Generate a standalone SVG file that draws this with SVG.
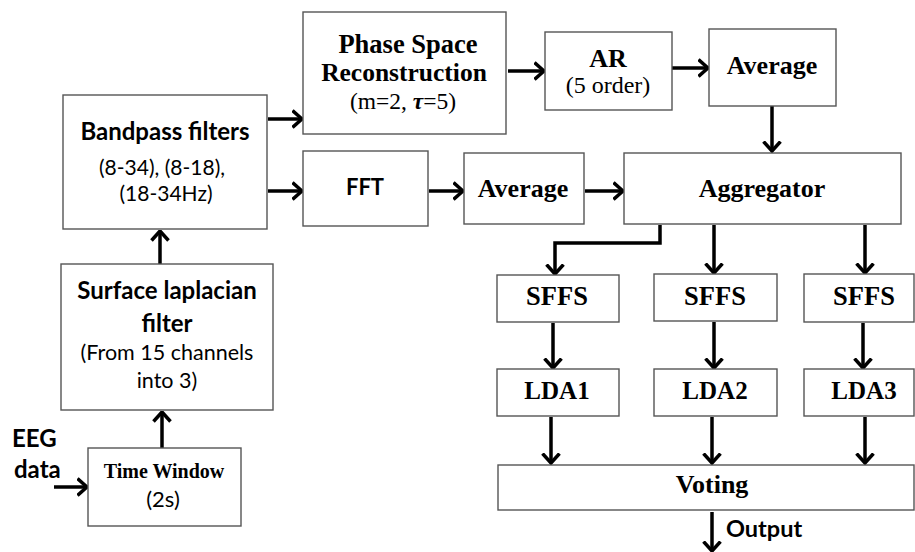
<svg xmlns="http://www.w3.org/2000/svg" width="915" height="552" viewBox="0 0 915 552">
<style>
.box{fill:#fff;stroke:#555;stroke-width:1.4}
.tb{font-family:"Liberation Serif","Times New Roman",serif;font-weight:bold;fill:#000;text-anchor:middle}
.tr{font-family:"Liberation Serif","Times New Roman",serif;fill:#000;text-anchor:middle}
.sb{font-family:Lato,"Liberation Sans",sans-serif;font-weight:bold;fill:#000;text-anchor:middle}
.sr{font-family:Lato,"Liberation Sans",sans-serif;fill:#000;text-anchor:middle}
.st{text-anchor:start}
.c{fill:none;stroke:#000;stroke-width:3.5;marker-end:url(#ah)}
</style>
<defs>
<marker id="ah" viewBox="0 0 12 20" refX="10.5" refY="10" markerWidth="12" markerHeight="20" markerUnits="userSpaceOnUse" orient="auto">
<path d="M1,1.5 L10.5,10 L1,18.5" fill="none" stroke="#000" stroke-width="3.5"/>
</marker>
</defs>
<rect width="915" height="552" fill="#fff"/>
<g id="connectors">
<path class="c" d="M54,487 H87"/>
<path class="c" d="M162,448 V412"/>
<path class="c" d="M160,264 V231"/>
<path class="c" d="M268,119 H302"/>
<path class="c" d="M268,191 H302"/>
<path class="c" d="M429,191 H463"/>
<path class="c" d="M508,71 H544"/>
<path class="c" d="M672,68 H708"/>
<path class="c" d="M772,106 V151"/>
<path class="c" d="M585,191 H623"/>
<path class="c" d="M660,225 V243 H555 V274"/>
<path class="c" d="M714,225 V273"/>
<path class="c" d="M865,225 V273"/>
<path class="c" d="M553,323 V368"/>
<path class="c" d="M714,322 V368"/>
<path class="c" d="M863,323 V368"/>
<path class="c" d="M551,417 V463"/>
<path class="c" d="M712,417 V463"/>
<path class="c" d="M865,417 V463"/>
<path class="c" d="M712,512 V551"/>
</g>
<g id="eeg"><text class="sb st" x="12" y="447" font-size="24">EEG</text><text class="sb st" x="14" y="478" font-size="24">data</text></g>
<g id="timewindow"><rect class="box" x="88" y="448" width="153" height="78"/><text class="tb" x="164" y="478" font-size="20">Time Window</text><text class="sr" x="163" y="507" font-size="22">(2s)</text></g>
<g id="surface"><rect class="box" x="61" y="264" width="212" height="146"/><text class="sb" x="167" y="299" font-size="24">Surface laplacian</text><text class="sb" x="167" y="332" font-size="24">filter</text><text class="sr" x="167" y="360" font-size="21.5">(From 15 channels</text><text class="sr" x="167" y="388" font-size="21.5">into 3)</text></g>
<g id="bandpass"><rect class="box" x="63" y="95" width="204" height="134"/><text class="sb" x="165" y="140" font-size="24">Bandpass filters</text><text class="sr" x="162" y="175" font-size="21">(8-34), (8-18),</text><text class="sr" x="166" y="201" font-size="21">(18-34Hz)</text></g>
<g id="phasespace"><rect class="box" x="303" y="12" width="203" height="122"/><text class="tb" x="408" y="53" font-size="26.5">Phase Space</text><text class="tb" x="404" y="81" font-size="25.5">Reconstruction</text><text class="tr" x="403" y="108.5" font-size="23.5">(m=2, <tspan font-weight="bold" font-style="italic">τ</tspan>=5)</text></g>
<g id="fft"><rect class="box" x="303" y="151" width="125" height="75"/><text class="sb" x="365" y="195" font-size="22">FFT</text></g>
<g id="ar"><rect class="box" x="545" y="32" width="127" height="78"/><text class="tb" x="608" y="67" font-size="26">AR</text><text class="tr" x="608" y="93" font-size="24">(5 order)</text></g>
<g id="average1"><rect class="box" x="709" y="29" width="127" height="77"/><text class="tb" x="772" y="74" font-size="26">Average</text></g>
<g id="average2"><rect class="box" x="464" y="153" width="120" height="71"/><text class="tb" x="523" y="197" font-size="26">Average</text></g>
<g id="aggregator"><rect class="box" x="624" y="153" width="277" height="71"/><text class="tb" x="762" y="197" font-size="26">Aggregator</text></g>
<g id="sffs1"><rect class="box" x="497" y="275" width="122" height="47"/><text class="tb" x="557" y="305" font-size="26.5">SFFS</text></g>
<g id="sffs2"><rect class="box" x="654" y="274" width="123" height="47"/><text class="tb" x="715" y="305" font-size="26.5">SFFS</text></g>
<g id="sffs3"><rect class="box" x="804" y="274" width="110" height="48"/><text class="tb" x="864" y="305" font-size="26.5">SFFS</text></g>
<g id="lda1"><rect class="box" x="497" y="369" width="122" height="47"/><text class="tb" x="557" y="399" font-size="25">LDA1</text></g>
<g id="lda2"><rect class="box" x="654" y="369" width="123" height="47"/><text class="tb" x="715" y="399" font-size="25">LDA2</text></g>
<g id="lda3"><rect class="box" x="804" y="369" width="110" height="47"/><text class="tb" x="864" y="399" font-size="25">LDA3</text></g>
<g id="voting"><rect class="box" x="498" y="465" width="416" height="45"/><text class="tb" x="712" y="493" font-size="26">Voting</text></g>
<g id="output"><text class="sb st" x="726" y="537" font-size="23.5">Output</text></g>
</svg>
